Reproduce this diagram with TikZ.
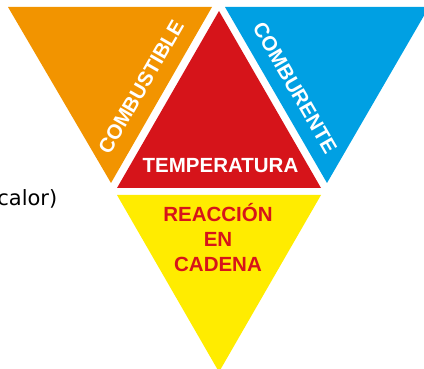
\documentclass[tikz,border=0pt]{standalone}
\usepackage{fontspec}
\setmainfont{Liberation Sans}
\newfontfamily\dejavu{DejaVu Sans}
\definecolor{cOrange}{RGB}{242,148,0}
\definecolor{cBlue}{RGB}{0,160,227}
\definecolor{cRed}{RGB}{214,20,26}
\definecolor{cYellow}{RGB}{255,236,0}
\tikzset{
  lbl/.style={inner sep=0pt, font=\fontsize{20.5}{24}\selectfont\bfseries, text=white},
  rlbl/.style={lbl, text=cRed, anchor=base}
}
\begin{document}
\begin{tikzpicture}[x=1pt,y=-1pt]
\useasboundingbox (0,0) rectangle (424,369);
\clip (0,0) rectangle (424,369);
\fill[cOrange] (8,7) -- (212,7) -- (111,183) -- cycle;
\fill[cBlue] (225,7) -- (429,7) -- (327,183) -- cycle;
\fill[cRed] (117,188) -- (321,188) -- (219,11) -- cycle;
\fill[cYellow] (117,195) -- (321,195) -- (219,372) -- cycle;
\node[lbl, anchor=base] (temp) at (220.5,173) {TEMPERATURA};
\node[lbl, rotate=60] (comb) at (141,87) {COMBUSTIBLE};
\node[lbl, rotate=-60] (comr) at (295,88) {COMBURENTE};
\node[rlbl] (reac) at (218,222) {REACCIÓN};
\node[rlbl] (en) at (218,247) {EN};
\node[rlbl] (cad) at (218,272) {CADENA};
\node[inner sep=0pt, anchor=base east, font=\dejavu\fontsize{21}{24}\selectfont] (calor) at (57.5,206) {calor)};
\end{tikzpicture}
\end{document}
